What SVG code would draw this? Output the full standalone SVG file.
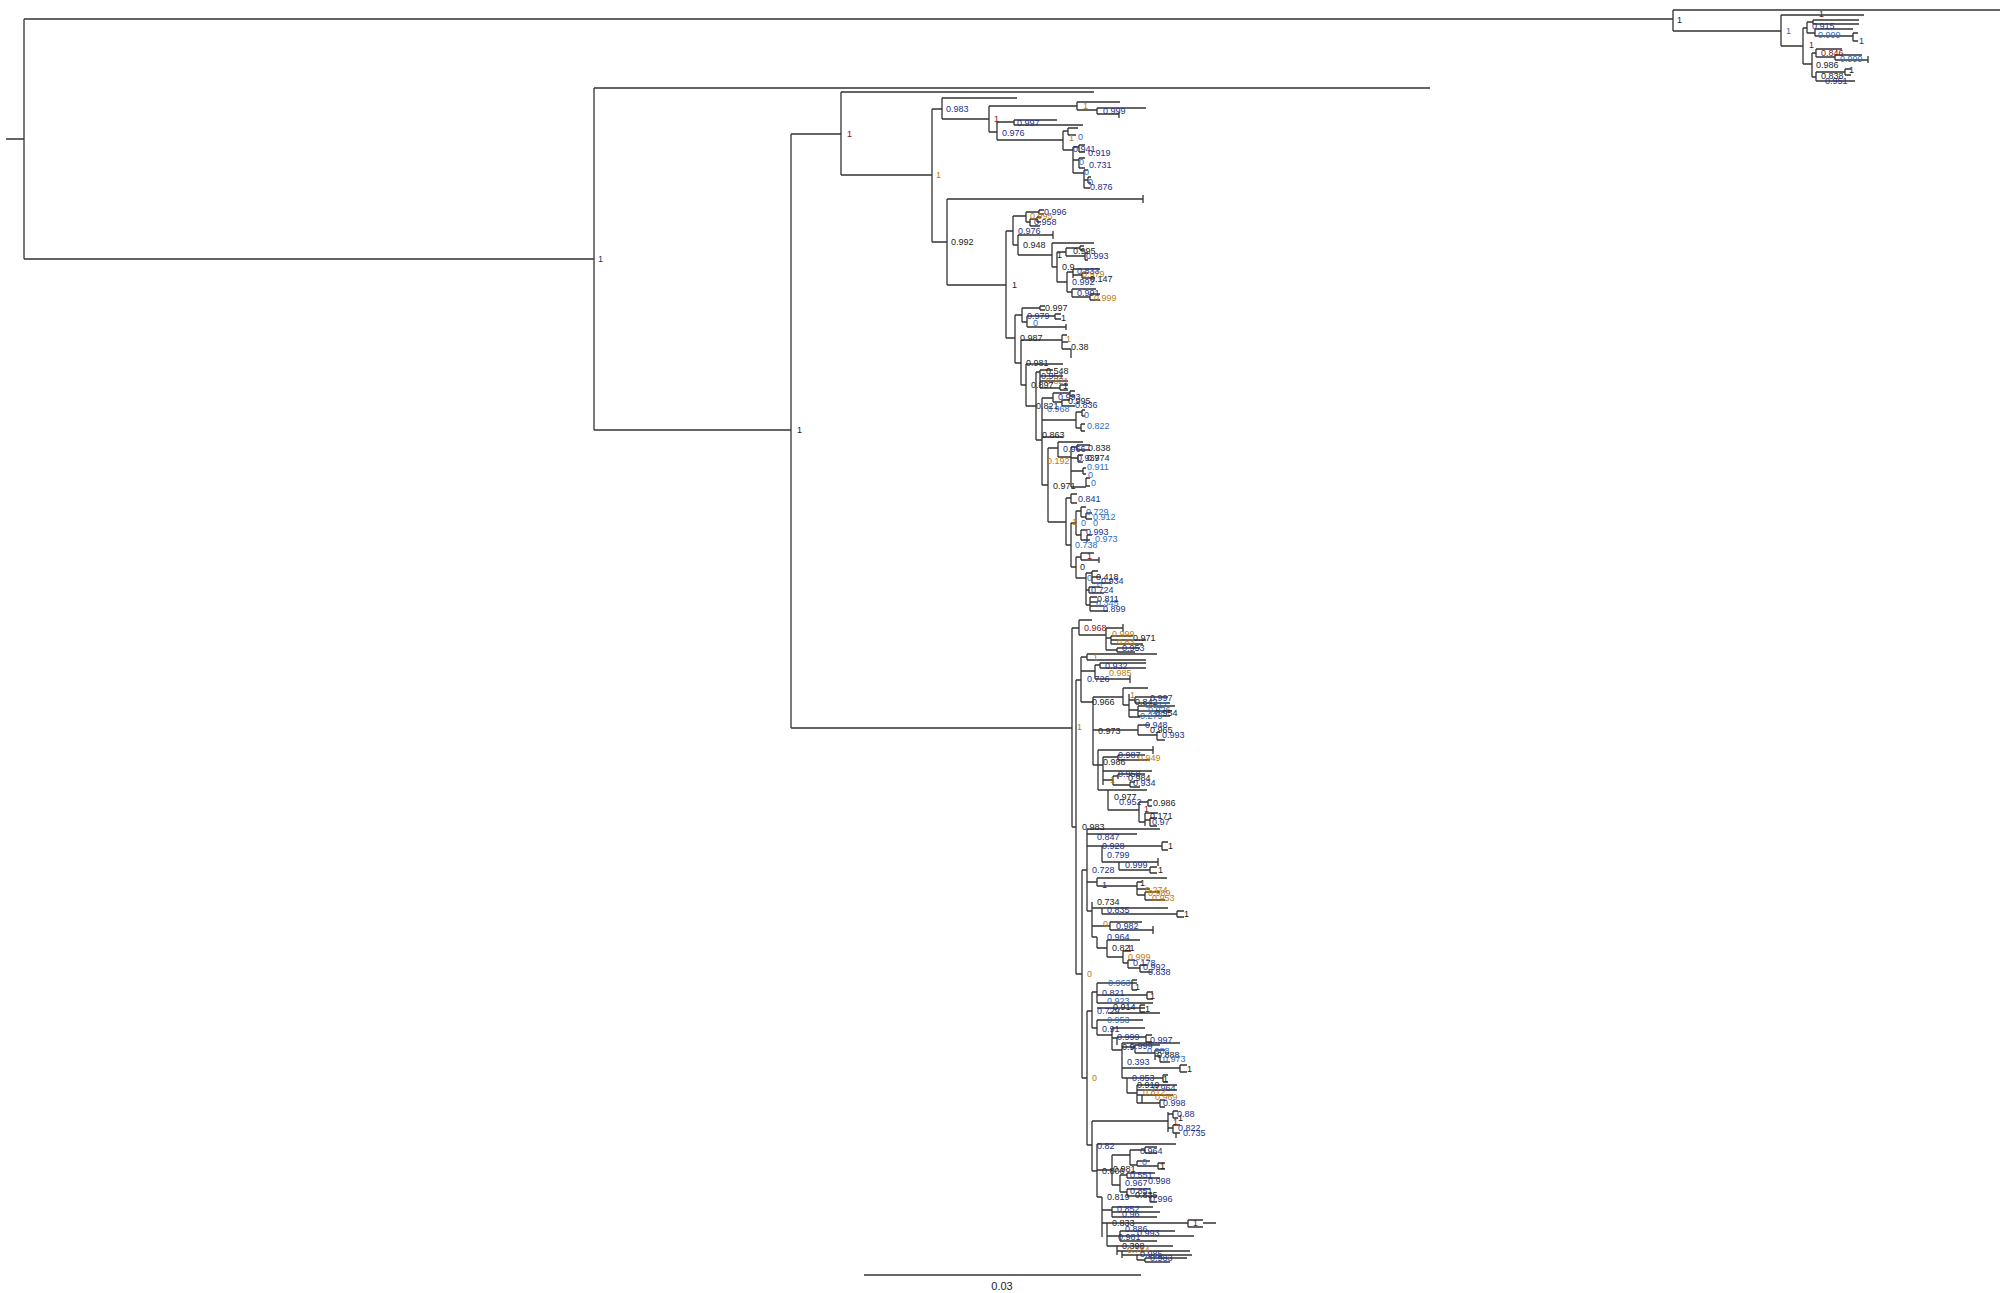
<svg xmlns="http://www.w3.org/2000/svg" width="2014" height="1293" viewBox="0 0 2014 1293">
<style>
.br{fill:none;stroke:#333;stroke-width:1.3}
text{font-family:"Liberation Sans",Arial,sans-serif;font-size:9px;fill:#222}
.k{fill:#222}.u{fill:#22308a}.b{fill:#2c6cc4}.o{fill:#c07a10}.r{fill:#8b1010}
.sc{font-size:11px;text-anchor:middle}
</style>
<rect width="2014" height="1293" fill="#fff"/>
<g id="connectors">
<path class="br" d="M6 139H24M24 19V259M24 19H1673M24 259H594"/>
<path class="br" d="M1673 10V31M1673 10H2000M1673 31H1781M1781 15V46M1781 15H1864M1781 46H1803M1803 28V64M1803 28H1807M1807 22V33M1807 22H1813M1813 20V24M1813 20H1859M1813 24H1859M1807 33H1815M1815 29V36M1815 29H1853M1815 36H1853M1853 33V41M1853 33H1858M1853 41H1858M1803 64H1812M1812 53V77M1812 53H1816M1816 49V57M1816 49H1842M1816 57H1835M1835 55V60M1835 55H1862M1835 60H1868M1868 56V63M1812 77H1816M1816 72V81M1816 72H1845M1845 69V75M1845 69H1851M1845 75H1851M1816 81H1855"/>
<path class="br" d="M594 88V430M594 88H1430M594 430H791M791 134V728M791 134H841M841 92V175M841 92H1094M841 175H932M932 109V242M932 109H942M942 98V119M942 98H1017M942 119H989M989 106V132M989 106H1077M1077 102V110M1077 102H1120M1077 110H1097M1097 108V114M1097 108H1146M1097 114H1119M1119 112V118M989 132H997M997 122V140M997 122H1014M1014 120V125M1014 120H1057M1014 125H1083M997 140H1063M1063 131V150M1063 131H1068M1068 128V135M1068 128H1078M1068 135H1076M1063 150H1073M1073 147V173M1073 147H1079M1079 145V152M1079 145H1085M1079 152H1085M1073 160H1079M1079 158V168M1079 158H1085M1079 168H1085M1073 173H1084M1084 170V188M1084 170H1088M1084 180H1088M1088 177V183M1088 177H1091M1088 183H1091M1084 188H1090"/>
<path class="br" d="M932 242H947M947 199V285M947 199H1143M1143 195V203M947 285H1006M1006 231V338M1006 231H1013M1013 216V245M1013 216H1026M1026 212V222M1026 212H1039M1039 210V214M1039 210H1044M1039 214H1044M1026 222H1030M1030 219V226M1030 219H1037M1037 217V222M1037 217H1041M1037 222H1041M1030 226H1040M1013 245H1018M1018 235V255M1018 235H1053M1053 231V239M1018 255H1052M1052 243V267M1052 243H1094M1052 267H1057M1057 252V282M1057 252H1066M1066 248V256M1066 248H1080M1080 246V250M1080 246H1084M1080 250H1084M1066 256H1085M1085 253V260M1085 253H1088M1085 260H1088M1057 282H1067M1067 272V292M1067 272H1073M1073 269V278M1073 269H1100M1073 275H1082M1082 273V278M1082 273H1088M1082 278H1095M1067 292H1072M1072 289V297M1072 289H1096M1072 297H1090M1090 294V300M1090 294H1100M1090 300H1100"/>
<path class="br" d="M1006 338H1015M1015 315V363M1015 315H1022M1022 308V322M1022 308H1040M1040 306V310M1040 306H1045M1040 310H1045M1022 322H1027M1027 316V327M1027 316H1055M1055 314V319M1055 314H1061M1055 319H1061M1027 327H1066M1066 324V330M1015 363H1021M1021 340V385M1021 340H1062M1062 335V349M1062 335H1067M1062 342H1068M1062 349H1071M1071 349V358M1021 385H1026M1026 364V406M1026 364H1063M1026 406H1036M1036 372V440M1036 372H1040M1040 370V388M1040 370H1053M1040 376H1063M1040 381H1068M1040 388H1060M1060 385V390M1060 385H1068M1060 390H1068M1036 440H1042M1042 398V485M1042 398H1053M1053 393V402M1053 393H1070M1070 391V396M1070 391H1075M1070 396H1075M1053 402H1062M1062 400V406M1062 400H1070M1062 406H1075M1042 420H1076M1076 412V428M1076 412H1082M1082 410V416M1082 410H1085M1082 416H1085M1076 428H1081M1081 424V431M1081 424H1085M1081 431H1085M1042 437H1063"/>
<path class="br" d="M1042 485H1048M1048 448V522M1048 448H1058M1058 442V457M1058 442H1083M1058 457H1071M1071 447V487M1071 447H1077M1077 445V450M1077 445H1090M1077 450H1090M1071 458H1078M1078 455V462M1078 455H1083M1078 462H1083M1071 471H1083M1083 468V474M1083 468H1086M1083 474H1086M1071 487H1086M1086 478V486M1086 478H1090M1086 486H1090M1048 522H1066M1066 498V545M1066 498H1071M1071 494V503M1071 494H1077M1071 503H1077M1066 545H1071M1071 523V567M1071 523H1076M1076 511V535M1076 511H1081M1081 507V517M1081 507H1086M1081 517H1086M1086 513V519M1086 513H1092M1086 519H1092M1076 535H1081M1081 530V540M1081 530H1087M1081 540H1090M1087 535V542M1087 535H1092M1071 567H1076M1076 557V578M1076 557H1081M1081 553V560M1081 553H1094M1081 560H1099M1099 557V563M1076 578H1086M1086 573V605M1086 573H1092M1092 571V583M1092 571H1098M1092 577H1101M1092 583H1111M1086 590H1089M1089 587V593M1089 587H1100M1089 593H1104M1086 605H1090M1090 597V611M1090 597H1097M1090 602H1098M1090 606H1104M1090 611H1108"/>
<path class="br" d="M791 728H1072M1072 628V827M1072 628H1079M1079 620V635M1079 620H1092M1079 635H1106M1106 628V650M1106 628H1123M1123 624V632M1106 638H1111M1111 636V644M1111 636H1133M1111 640H1146M1111 644H1143M1106 650H1117M1117 648V652M1117 648H1140M1117 652H1135"/>
<path class="br" d="M1072 827H1076M1076 680V974M1076 680H1081M1081 657V702M1081 657H1087M1087 654V660M1087 654H1157M1087 660H1146M1081 671H1095M1095 665V679M1095 665H1100M1100 663V668M1100 663H1146M1100 668H1146M1095 679H1130M1130 675V683M1081 702H1093M1093 697V765M1093 697H1123M1123 688V705M1123 688H1148M1123 705H1129M1129 694V717M1129 700H1135M1135 697V703M1135 697H1168M1135 703H1170M1129 710H1138M1138 706V716M1138 706H1175M1138 711H1172M1138 716H1170M1129 717H1140M1093 730H1138M1138 725V735M1138 725H1150M1138 735H1157M1157 732V740M1157 732H1160M1157 740H1165M1093 765H1098M1098 750V790M1098 750H1153M1153 746V754M1098 765H1103M1103 757V785M1103 757H1118M1118 755V760M1118 755H1145M1118 760H1150M1103 771H1152M1103 780H1113M1113 776V785M1113 776H1118M1118 774V779M1118 774H1145M1113 785H1130M1130 782V787M1130 782H1135M1130 787H1140M1098 790H1108M1108 790V810M1108 790H1147M1108 810H1139M1139 802V822M1139 802H1148M1148 800V806M1148 800H1152M1148 806H1152M1139 822H1145M1145 813V826M1145 813H1158M1145 820H1150M1150 818V826M1150 818H1157M1150 826H1157"/>
<path class="br" d="M1076 974H1082M1082 870V1078M1082 870H1087M1087 829V911M1087 829H1160M1087 834H1137M1087 846H1102M1102 846V862M1102 846H1162M1162 842V850M1162 842H1168M1162 850H1168M1102 862H1119M1119 862V870M1119 862H1158M1158 858V866M1119 870H1150M1150 867V873M1150 867H1157M1150 873H1157M1087 882H1097M1097 878V886M1097 878H1167M1097 886H1137M1137 882V895M1137 882H1142M1137 889H1150M1137 895H1145M1145 892V900M1145 892H1160M1145 900H1165M1087 911H1092M1092 902V937M1092 908H1102M1102 908V914M1102 908H1168M1102 914H1177M1177 911V917M1177 911H1184M1177 917H1184M1092 926H1110M1110 922V930M1110 922H1142M1110 930H1153M1153 926V934M1092 937H1097M1097 937V948M1097 948H1107M1107 940V957M1107 940H1140M1107 957H1123M1123 951V963M1123 951H1131M1123 963H1128M1128 960V968M1128 960H1135M1128 968H1140M1140 965V972M1140 965H1147M1140 972H1152"/>
<path class="br" d="M1082 1078H1087M1087 1011V1145M1087 1011H1092M1092 992V1028M1092 992H1097M1097 983V1003M1097 983H1137M1132 980V990M1132 980H1137M1132 990H1137M1097 995H1147M1147 992V999M1147 992H1153M1147 999H1153M1097 1003H1153M1097 1008H1145M1140 1005V1012M1140 1005H1145M1140 1012H1145M1108 1013H1160M1092 1028H1097M1097 1020V1035M1097 1020H1143M1097 1035H1112M1112 1028V1050M1112 1028H1145M1112 1038H1117M1117 1037V1045M1117 1037H1146M1146 1035V1042M1146 1035H1152M1146 1042H1152M1112 1050H1122M1122 1043V1078M1122 1043H1180M1122 1047H1135M1135 1045V1053M1135 1045H1160M1135 1053H1155M1155 1050V1060M1155 1050H1165M1155 1056H1160M1160 1055V1062M1160 1062H1170M1122 1068H1180M1180 1065V1072M1180 1065H1187M1180 1072H1187M1122 1078H1127M1127 1078V1093M1127 1078H1163M1163 1075V1082M1163 1075H1168M1163 1082H1168M1127 1093H1137M1137 1085V1103M1137 1085H1177M1137 1090H1177M1137 1095H1173M1142 1095V1103M1137 1103H1160M1160 1100V1107M1160 1100H1165M1160 1107H1165"/>
<path class="br" d="M1087 1145H1092M1092 1121V1171M1092 1121H1168M1168 1112V1132M1168 1114H1173M1173 1111V1118M1173 1111H1178M1173 1118H1178M1168 1128H1173M1173 1125V1133M1173 1125H1180M1173 1133H1180M1176 1133V1138M1092 1171H1097M1097 1144V1197M1097 1144H1176M1097 1170H1112M1112 1155V1185M1112 1155H1130M1130 1150V1165M1130 1150H1145M1145 1147V1153M1145 1147H1157M1145 1153H1157M1130 1165H1137M1137 1161V1166M1137 1161H1150M1137 1166H1158M1158 1163V1169M1158 1163H1165M1158 1169H1165M1112 1185H1120M1120 1175V1192M1120 1175H1127M1127 1173V1178M1127 1173H1155M1127 1178H1160M1120 1192H1127M1127 1189V1196M1127 1189H1150M1127 1196H1150M1150 1196V1202M1150 1196H1157M1150 1202H1157M1097 1197H1102M1102 1197V1237M1102 1210H1112M1112 1207V1217M1112 1207H1153M1112 1212H1160M1112 1217H1157M1102 1223H1107M1107 1223V1246M1107 1223H1188M1188 1220V1227M1188 1220H1203M1188 1227H1203M1203 1223H1216M1107 1236H1120M1120 1231V1241M1120 1231H1175M1120 1236H1194M1120 1241H1157M1107 1246H1117M1117 1246V1255M1117 1246H1173M1117 1251H1122M1122 1251V1258M1122 1251H1190M1122 1255H1137M1137 1255V1260M1137 1255H1192M1137 1260H1145M1145 1258V1262M1145 1258H1187M1145 1262H1170"/>
<path class="br" d="M864 1275H1141"/>
</g>
<g id="node-labels-outgroup">
<text x="1677" y="23" class="k">1</text>
<text x="1786" y="34" class="b">1</text>
<text x="1809" y="48" class="r">1</text>
<text x="1819" y="17" class="r">1</text>
<text x="1812" y="29" class="u">0.915</text>
<text x="1818" y="38" class="b">0.999</text>
<text x="1859" y="44" class="u">1</text>
<text x="1821" y="56" class="r">0.846</text>
<text x="1840" y="62" class="b">0.999</text>
<text x="1816" y="68" class="k">0.986</text>
<text x="1849" y="73" class="k">1</text>
<text x="1821" y="79" class="k">0.838</text>
<text x="1825" y="84" class="u">0.951</text>
</g>
<g id="node-labels-upper">
<text x="598" y="262" class="u">1</text>
<text x="797" y="433" class="k">1</text>
<text x="847" y="137" class="r">1</text>
<text x="936" y="178" class="o">1</text>
<text x="946" y="112" class="u">0.983</text>
<text x="951" y="245" class="k">0.992</text>
<text x="994" y="122" class="r">1</text>
<text x="1083" y="109" class="o">1</text>
<text x="1103" y="114" class="u">0.999</text>
<text x="1017" y="126" class="u">0.997</text>
<text x="1002" y="136" class="u">0.976</text>
<text x="1069" y="141" class="o">1</text>
<text x="1078" y="140" class="b">0</text>
<text x="1073" y="152" class="u">0.941</text>
<text x="1088" y="156" class="u">0.919</text>
<text x="1079" y="165" class="b">0</text>
<text x="1089" y="168" class="u">0.731</text>
<text x="1084" y="175" class="b">0</text>
<text x="1088" y="185" class="b">0</text>
<text x="1090" y="190" class="u">0.876</text>
<text x="1044" y="215" class="u">0.996</text>
<text x="1030" y="219" class="o">0.995</text>
<text x="1034" y="225" class="u">0.958</text>
<text x="1018" y="234" class="u">0.976</text>
<text x="1023" y="248" class="k">0.948</text>
<text x="1057" y="258" class="k">1</text>
<text x="1062" y="270" class="k">0.9</text>
<text x="1073" y="254" class="k">0.995</text>
<text x="1086" y="259" class="u">0.993</text>
<text x="1077" y="274" class="u">0.833</text>
<text x="1082" y="277" class="o">0.979</text>
<text x="1090" y="282" class="k">0.147</text>
<text x="1072" y="285" class="u">0.992</text>
<text x="1077" y="296" class="u">0.991</text>
<text x="1094" y="301" class="o">0.999</text>
<text x="1012" y="288" class="k">1</text>
<text x="1045" y="311" class="k">0.997</text>
<text x="1027" y="319" class="u">0.979</text>
<text x="1061" y="321" class="k">1</text>
<text x="1033" y="326" class="b">0</text>
<text x="1020" y="341" class="k">0.987</text>
<text x="1066" y="342" class="o">1</text>
<text x="1071" y="350" class="k">0.38</text>
<text x="1026" y="366" class="k">0.981</text>
<text x="1046" y="374" class="k">0.548</text>
<text x="1041" y="379" class="u">0.951</text>
<text x="1046" y="384" class="o">0.821</text>
<text x="1031" y="388" class="k">0.897</text>
<text x="1063" y="389" class="k">1</text>
<text x="1058" y="400" class="u">0.993</text>
<text x="1068" y="404" class="k">0.995</text>
<text x="1075" y="408" class="u">0.836</text>
<text x="1036" y="409" class="k">0.821</text>
<text x="1047" y="412" class="b">0.968</text>
<text x="1084" y="418" class="b">0</text>
<text x="1087" y="429" class="b">0.822</text>
<text x="1042" y="438" class="k">0.863</text>
<text x="1063" y="452" class="u">0.966</text>
<text x="1088" y="451" class="k">0.838</text>
<text x="1077" y="461" class="u">0.937</text>
<text x="1087" y="461" class="k">0.974</text>
<text x="1047" y="464" class="o">0.192</text>
<text x="1087" y="470" class="b">0.911</text>
<text x="1088" y="478" class="b">0</text>
<text x="1091" y="486" class="b">0</text>
<text x="1053" y="489" class="k">0.971</text>
<text x="1078" y="502" class="u">0.841</text>
<text x="1086" y="515" class="b">0.729</text>
<text x="1093" y="520" class="b">0.912</text>
<text x="1072" y="525" class="o">1</text>
<text x="1081" y="526" class="b">0</text>
<text x="1093" y="526" class="b">0</text>
<text x="1086" y="535" class="u">0.993</text>
<text x="1095" y="542" class="b">0.973</text>
<text x="1075" y="548" class="b">0.738</text>
<text x="1087" y="559" class="r">1</text>
<text x="1080" y="570" class="k">0</text>
<text x="1087" y="581" class="b">0</text>
<text x="1096" y="580" class="k">0.418</text>
<text x="1101" y="584" class="u">0.934</text>
<text x="1097" y="588" class="b">0</text>
<text x="1091" y="593" class="u">0.724</text>
<text x="1097" y="602" class="k">0.811</text>
<text x="1096" y="606" class="b">0.345</text>
<text x="1103" y="612" class="u">0.899</text>
</g>
<g id="node-labels-lower">
<text x="1077" y="730" class="o">1</text>
<text x="1084" y="631" class="r">0.968</text>
<text x="1112" y="637" class="o">0.999</text>
<text x="1133" y="641" class="k">0.971</text>
<text x="1117" y="645" class="o">0.83</text>
<text x="1122" y="651" class="u">0.953</text>
<text x="1082" y="830" class="k">0.983</text>
<text x="1093" y="660" class="o">1</text>
<text x="1105" y="669" class="u">0.932</text>
<text x="1109" y="676" class="o">0.985</text>
<text x="1087" y="682" class="u">0.726</text>
<text x="1130" y="698" class="o">1</text>
<text x="1150" y="701" class="u">0.997</text>
<text x="1135" y="705" class="k">0.842</text>
<text x="1092" y="705" class="k">0.966</text>
<text x="1145" y="708" class="b">0.917</text>
<text x="1148" y="713" class="b">0.926</text>
<text x="1155" y="716" class="k">0.954</text>
<text x="1140" y="719" class="b">0.279</text>
<text x="1145" y="728" class="u">0.948</text>
<text x="1150" y="733" class="k">0.965</text>
<text x="1162" y="738" class="u">0.993</text>
<text x="1098" y="734" class="k">0.973</text>
<text x="1118" y="758" class="u">0.987</text>
<text x="1138" y="761" class="o">0.949</text>
<text x="1103" y="765" class="k">0.986</text>
<text x="1118" y="777" class="u">0.958</text>
<text x="1128" y="781" class="k">0.984</text>
<text x="1110" y="783" class="o">1</text>
<text x="1133" y="786" class="u">0.934</text>
<text x="1114" y="800" class="k">0.977</text>
<text x="1119" y="805" class="u">0.952</text>
<text x="1153" y="806" class="k">0.986</text>
<text x="1144" y="812" class="r">1</text>
<text x="1150" y="819" class="k">0.171</text>
<text x="1152" y="825" class="u">0.97</text>
<text x="1097" y="840" class="u">0.847</text>
<text x="1102" y="849" class="u">0.928</text>
<text x="1168" y="849" class="k">1</text>
<text x="1107" y="858" class="u">0.799</text>
<text x="1125" y="868" class="u">0.999</text>
<text x="1158" y="873" class="k">1</text>
<text x="1092" y="873" class="u">0.728</text>
<text x="1102" y="888" class="u">1</text>
<text x="1140" y="886" class="k">1</text>
<text x="1145" y="893" class="o">0.274</text>
<text x="1148" y="896" class="o">0.989</text>
<text x="1152" y="901" class="o">0.953</text>
<text x="1097" y="905" class="k">0.734</text>
<text x="1107" y="913" class="u">0.835</text>
<text x="1184" y="917" class="k">1</text>
<text x="1103" y="927" class="o">0</text>
<text x="1116" y="929" class="u">0.982</text>
<text x="1107" y="940" class="u">0.964</text>
<text x="1112" y="951" class="k">0.821</text>
<text x="1127" y="951" class="r">1</text>
<text x="1128" y="960" class="o">0.999</text>
<text x="1133" y="966" class="u">0.178</text>
<text x="1143" y="970" class="u">0.992</text>
<text x="1148" y="975" class="u">0.838</text>
<text x="1087" y="977" class="o">0</text>
<text x="1108" y="986" class="b">0.963</text>
<text x="1135" y="990" class="k">1</text>
<text x="1102" y="996" class="u">0.821</text>
<text x="1150" y="999" class="k">1</text>
<text x="1107" y="1004" class="b">0.923</text>
<text x="1113" y="1010" class="k">0.914</text>
<text x="1145" y="1012" class="k">1</text>
<text x="1097" y="1014" class="u">0.729</text>
<text x="1107" y="1023" class="b">0.953</text>
<text x="1102" y="1032" class="u">0.91</text>
<text x="1117" y="1040" class="u">0.999</text>
<text x="1150" y="1043" class="u">0.997</text>
<text x="1122" y="1050" class="k">0.9</text>
<text x="1130" y="1049" class="u">0.999</text>
<text x="1147" y="1054" class="b">0.988</text>
<text x="1157" y="1058" class="k">0.888</text>
<text x="1163" y="1062" class="b">0.973</text>
<text x="1127" y="1065" class="u">0.393</text>
<text x="1187" y="1072" class="k">1</text>
<text x="1132" y="1081" class="u">0.853</text>
<text x="1163" y="1082" class="k">1</text>
<text x="1092" y="1081" class="o">0</text>
<text x="1137" y="1088" class="k">0.919</text>
<text x="1153" y="1091" class="u">0.964</text>
<text x="1143" y="1095" class="o">0.812</text>
<text x="1155" y="1100" class="o">0.969</text>
<text x="1163" y="1106" class="u">0.998</text>
<text x="1177" y="1117" class="u">0.88</text>
<text x="1178" y="1121" class="k">1</text>
<text x="1173" y="1125" class="r">1</text>
<text x="1178" y="1131" class="u">0.822</text>
<text x="1183" y="1136" class="u">0.735</text>
<text x="1097" y="1149" class="u">0.82</text>
<text x="1140" y="1154" class="u">0.964</text>
<text x="1142" y="1165" class="b">0</text>
<text x="1160" y="1169" class="k">1</text>
<text x="1102" y="1174" class="k">0.806</text>
<text x="1113" y="1172" class="k">0.981</text>
<text x="1130" y="1178" class="u">0.551</text>
<text x="1148" y="1184" class="u">0.998</text>
<text x="1125" y="1186" class="u">0.967</text>
<text x="1130" y="1194" class="u">0.851</text>
<text x="1135" y="1198" class="k">0.835</text>
<text x="1107" y="1200" class="k">0.819</text>
<text x="1150" y="1202" class="u">0.996</text>
<text x="1117" y="1212" class="u">0.852</text>
<text x="1122" y="1217" class="u">0.96</text>
<text x="1112" y="1226" class="k">0.833</text>
<text x="1193" y="1226" class="r">1</text>
<text x="1125" y="1232" class="u">0.886</text>
<text x="1137" y="1236" class="u">0.993</text>
<text x="1118" y="1240" class="u">0.981</text>
<text x="1122" y="1249" class="k">0.398</text>
<text x="1127" y="1253" class="o">0.784</text>
<text x="1140" y="1257" class="u">0.985</text>
<text x="1150" y="1261" class="u">0.983</text>
</g>
<g id="scale-bar">
<text x="1002" y="1290" class="sc">0.03</text>
</g>
</svg>
